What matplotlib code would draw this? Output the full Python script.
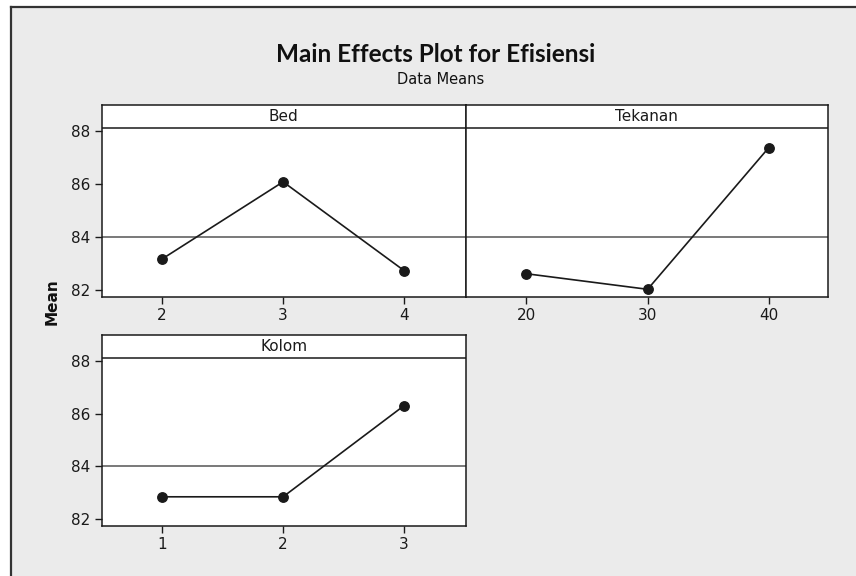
import matplotlib
matplotlib.use("Agg")
import matplotlib.pyplot as plt
from matplotlib.lines import Line2D

# Factor levels and mean efficiency at each level
bed_levels = [2, 3, 4]
bed_means = [83.17, 86.09, 82.73]

tekanan_levels = [20, 30, 40]
tekanan_means = [82.61, 82.02, 87.39]

kolom_levels = [1, 2, 3]
kolom_means = [82.84, 82.84, 86.31]

grand_mean = 84.01
y_ticks = [82, 84, 86, 88]

BG = "#ebebeb"
INK = "#1a1a1a"
W, H = 856, 576

fig = plt.figure(figsize=(W / 100, H / 100), dpi=100, facecolor="white")

# Grey panel area with a frame line on the left and top
fig.patches.append(plt.Rectangle((11 / W, 0), 1, 1 - 7 / H, transform=fig.transFigure,
                                 facecolor=BG, edgecolor="none", zorder=-5))
fig.add_artist(Line2D([11 / W, 11 / W], [0, 1 - 7 / H], transform=fig.transFigure,
                      color="#333333", lw=1.6, zorder=-4))
fig.add_artist(Line2D([11 / W, 1], [1 - 7 / H, 1 - 7 / H], transform=fig.transFigure,
                      color="#333333", lw=1.6, zorder=-4))


def px_axes(x0, y0, x1, y1):
    return fig.add_axes([x0 / W, 1 - y1 / H, (x1 - x0) / W, (y1 - y0) / H])


def panel(ax, levels, means, name, xlim, show_y):
    ax.set_facecolor("white")
    ax.set_xlim(*xlim)
    ax.set_ylim(81.74, 89.0)
    ax.axhline(grand_mean, color="#555555", lw=1.1, zorder=1)
    ax.axhline(88.12, color=INK, lw=1.1, zorder=3)
    ax.plot(levels, means, color=INK, lw=1.2, marker="o", ms=6.8, zorder=4)
    ax.text(0.5, (89.0 + 88.12) / 2, name, transform=ax.get_yaxis_transform(),
            ha="center", va="center", fontsize=11, color=INK)
    ax.set_xticks(levels)
    ax.set_xticklabels([str(v) for v in levels])
    if show_y:
        ax.set_yticks(y_ticks)
        ax.set_yticklabels([str(v) for v in y_ticks])
    else:
        ax.set_yticks([])
    ax.tick_params(direction="out", length=5, width=1, color=INK,
                   labelsize=11, labelcolor=INK, pad=3)
    for s in ax.spines.values():
        s.set_color(INK)
        s.set_linewidth(1.1)


ax1 = px_axes(101.7, 105, 465.7, 296.7)
panel(ax1, bed_levels, bed_means, "Bed", (1.5, 4.51), True)

ax2 = px_axes(465.7, 105, 827.7, 296.7)
panel(ax2, tekanan_levels, tekanan_means, "Tekanan", (15.0, 44.85), False)

ax3 = px_axes(101.7, 335, 465.7, 525.7)
panel(ax3, kolom_levels, kolom_means, "Kolom", (0.5, 3.51), True)

fig.text(436 / W, 1 - 54 / H, "Main Effects Plot for Efisiensi",
         ha="center", va="center", fontsize=17.5, fontweight="bold",
         family=["Lato", "DejaVu Sans"], color="#111111")
fig.text(441 / W, 1 - 79 / H, "Data Means", ha="center", va="center",
         fontsize=10.5, color="#111111")
fig.text(52 / W, 1 - 302 / H, "Mean", ha="center", va="center", rotation=90,
         fontsize=11, fontweight="bold", color="#111111")

fig.savefig("out.png", dpi=100, facecolor=fig.get_facecolor())
